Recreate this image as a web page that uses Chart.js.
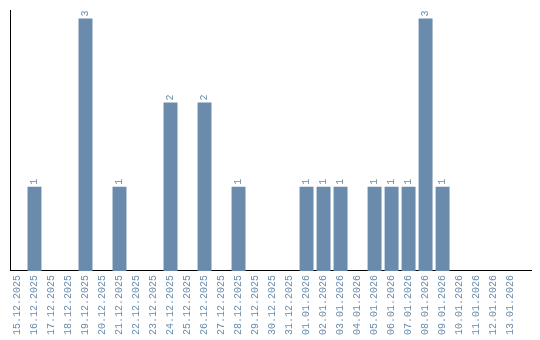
<!DOCTYPE html>
<html>
<head>
<meta charset="utf-8">
<script src="https://cdn.jsdelivr.net/npm/chart.js@4"></script>
<style>
  html, body { margin: 0; padding: 0; background: #fff; }
  #chart { display: block; }
</style>
</head>
<body>
<canvas id="chart" width="540" height="340"></canvas>
<script>
var dates = [
    "15.12.2025", "16.12.2025", "17.12.2025", "18.12.2025", "19.12.2025",
    "20.12.2025", "21.12.2025", "22.12.2025", "23.12.2025", "24.12.2025",
    "25.12.2025", "26.12.2025", "27.12.2025", "28.12.2025", "29.12.2025",
    "30.12.2025", "31.12.2025", "01.01.2026", "02.01.2026", "03.01.2026",
    "04.01.2026", "05.01.2026", "06.01.2026", "07.01.2026", "08.01.2026",
    "09.01.2026", "10.01.2026", "11.01.2026", "12.01.2026", "13.01.2026"
];
var counts = [
    0, 1, 0, 0, 3,
    0, 1, 0, 0, 2,
    0, 2, 0, 1, 0,
    0, 0, 1, 1, 1,
    0, 1, 1, 1, 3,
    1, 0, 0, 0, 0
];

var barColor = '#6a8bab';
var fontFamily = '"Liberation Mono", monospace';

// one point per day, index on x
var points = counts.map(function(v, i) {
    return { x: i, y: v };
});

// draws the value above each bar, turned to read upwards
var valueLabels = {
    id: 'valueLabels',
    afterDatasetsDraw: function(chart) {
        var ctx = chart.ctx;
        var meta = chart.getDatasetMeta(0);
        ctx.save();
        ctx.font = '10px ' + fontFamily;
        ctx.fillStyle = barColor;
        ctx.textAlign = 'left';
        ctx.textBaseline = 'middle';
        meta.data.forEach(function(bar, i) {
            var v = counts[i];
            if (!v) return;
            ctx.save();
            ctx.translate(bar.x, bar.y - 2);
            ctx.rotate(-Math.PI / 2);
            ctx.fillText(String(v), 0, 0);
            ctx.restore();
        });
        ctx.restore();
    }
};

var ctx = document.getElementById('chart');
new Chart(ctx, {
    type: 'bar',
    data: {
        datasets: [{
            data: points,
            backgroundColor: barColor,
            borderWidth: 0,
            categoryPercentage: 1,
            barPercentage: 0.82
        }]
    },
    options: {
        responsive: false,
        animation: false,
        layout: {
            padding: { left: 10, top: 10, right: 9, bottom: 1 }
        },
        plugins: {
            legend: { display: false },
            tooltip: { enabled: false }
        },
        scales: {
            x: {
                type: 'linear',
                offset: false,
                min: -0.44,
                max: 30.2,
                afterBuildTicks: function(scale) {
                    scale.ticks = dates.map(function(d, i) {
                        return { value: i };
                    });
                },
                grid: { display: false, drawTicks: false },
                border: { display: true, color: '#000', width: 1 },
                ticks: {
                    color: barColor,
                    font: { family: fontFamily, size: 10 },
                    minRotation: 90,
                    maxRotation: 90,
                    autoSkip: false,
                    padding: 4,
                    callback: function(value) {
                        return dates[value];
                    }
                }
            },
            y: {
                min: 0,
                max: 3.1,
                grid: { display: false, drawTicks: false },
                border: { display: true, color: '#000', width: 1 },
                ticks: { display: false }
            }
        }
    },
    plugins: [valueLabels]
});
</script>
</body>
</html>
